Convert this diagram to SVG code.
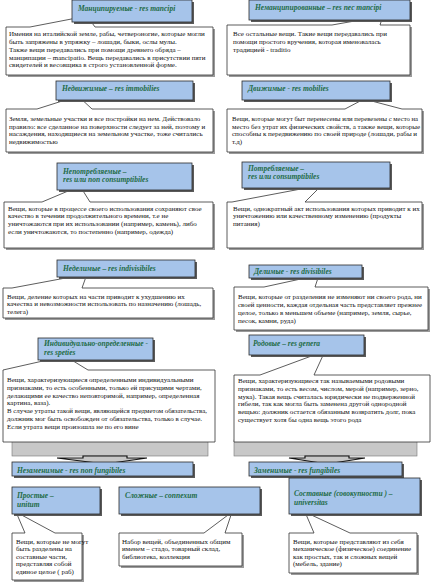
<svg xmlns="http://www.w3.org/2000/svg" width="434" height="585" viewBox="0 0 434 585">
<style>
.hs{fill:#5a5a5a}
.h{fill:#a6c4ea;stroke:#2b2b2b;stroke-width:0.8}
.ht{font-family:"Liberation Serif","DejaVu Serif",serif;font-weight:bold;font-style:italic;font-size:7.5px;fill:#1e6b46}
.bs{fill:#9a9a9a}
.b{fill:#fff;stroke:#333;stroke-width:0.8}
.bt{font-family:"Liberation Serif","DejaVu Serif",serif;font-size:7px;fill:#111}
.tray{fill:#c8c8c8;stroke:#777;stroke-width:0.6}
.arr{fill:#c8c8c8;stroke:#111;stroke-width:1.2}
</style>
<rect width="434" height="585" fill="#fff"/>

<g id="box-mancipi">
<rect class="bs" x="8" y="29" width="207" height="48"/>
<path class="b" d="M6,27 H30 L87,16 L95,27 H213 V75 H6 Z"/>
<text class="bt" x="9" y="35.8">Имения на италийской земле,  рабы,  четвероногие, которые могли</text>
<text class="bt" x="9" y="43.7">быть запряжены в упряжку – лошади, быки, ослы мулы.</text>
<text class="bt" x="9" y="51.6">Также вещи передавались при помощи древнего обряда –</text>
<text class="bt" x="9" y="59.5">манципации – mancipatio. Вещь передавались в присутствии пяти</text>
<text class="bt" x="9" y="67.4">свидетелей и весовщика в строго установленной форме.</text>
</g>
<g id="box-nec-mancipi">
<rect class="bs" x="229" y="27" width="183" height="50"/>
<path class="b" d="M227,25 H332 L383,16 L380,25 H410 V75 H227 Z"/>
<text class="bt" x="233" y="35.5">Все остальные вещи. Такие  вещи передавались при</text>
<text class="bt" x="233" y="43.5">помощи простого вручения, которая именовалась</text>
<text class="bt" x="233" y="51.5">традицией - traditio</text>
</g>
<g id="box-immobilies">
<rect class="bs" x="8" y="111" width="207" height="43"/>
<path class="b" d="M6,109 H37 L78,96 L92,109 H213 V152 H6 Z"/>
<text class="bt" x="9" y="121">Земля, земельные участки и все постройки на нем. Действовало</text>
<text class="bt" x="9" y="128.7">правило: все  сделанное  на поверхности следует за ней, поэтому и</text>
<text class="bt" x="9" y="136.4">насаждения, находящиеся на земельном участке, тоже считались</text>
<text class="bt" x="9" y="144.1">недвижимостью</text>
</g>
<g id="box-mobilies">
<rect class="bs" x="229" y="111" width="195" height="43"/>
<path class="b" d="M227,109 H345 L364,99 L402,109 H422 V152 H227 Z"/>
<text class="bt" x="232" y="121" textLength="186" lengthAdjust="spacingAndGlyphs">Вещи, которые могут быт перенесены или перевезены с  место на</text>
<text class="bt" x="232" y="128.7">место без утрат их физических свойств, а также  вещи, которые</text>
<text class="bt" x="232" y="136.4">способны к передвижению по своей  природе (лошади, рабы и</text>
<text class="bt" x="232" y="144.1">т.д)</text>
</g>
<g id="box-non-consumptibiles">
<rect class="bs" x="6" y="204" width="209" height="46"/>
<path class="b" d="M4,202 H42 L80,186 L90,202 H213 V248 H4 Z"/>
<text class="bt" x="8" y="210.5">Вещи, которые в процессе своего использования сохраняют  свое</text>
<text class="bt" x="8" y="218.2">качество в течении продолжительного времени, т.е не</text>
<text class="bt" x="8" y="225.9">уничтожаются при их использовании (например, камень), либо</text>
<text class="bt" x="8" y="233.6">если уничтожаются, то постепенно (например, одежда)</text>
</g>
<g id="box-consumptibiles">
<rect class="bs" x="229" y="204" width="195" height="46"/>
<path class="b" d="M227,202 H232 L322,185 L305,202 H422 V248 H227 Z"/>
<text class="bt" x="233" y="210.5">Вещи, однократный акт использования которых приводит к их</text>
<text class="bt" x="233" y="218.2">уничтожению или качественному изменению (продукты</text>
<text class="bt" x="233" y="225.9">питания)</text>
</g>
<g id="box-indivisibiles">
<rect class="bs" x="5" y="290" width="210" height="30"/>
<path class="b" d="M3,288 H12 L87,274 L82,288 H213 V318 H3 Z"/>
<text class="bt" x="7" y="298.5">Вещи, деление  которых на части приводит к ухудшению их</text>
<text class="bt" x="7" y="306.2">качества и невозможности использовать по назначению (лошадь,</text>
<text class="bt" x="7" y="313.9">телега)</text>
</g>
<g id="box-divisibiles">
<rect class="bs" x="236" y="289" width="194" height="43"/>
<path class="b" d="M234,287 H264 L319,275 L315,287 H428 V330 H234 Z"/>
<text class="bt" x="238" y="299">Вещи,  которые от разделения не  изменяют ни своего рода, ни</text>
<text class="bt" x="238" y="307" textLength="184" lengthAdjust="spacingAndGlyphs">своей ценности, каждая отдельная часть представляет прежнее</text>
<text class="bt" x="238" y="315">целое, только в меньшем объеме (например, земля, сырье,</text>
<text class="bt" x="238" y="323">песок, камни, руда)</text>
</g>
<g id="box-speties">
<rect class="tray" x="12" y="440" width="196" height="16"/>
<path class="b" d="M3,370 H3 L65,356 L88,370 H215 V442 H3 Z"/>
<text class="bt" x="7" y="382">Вещи, характеризующиеся определенными индивидуальными</text>
<text class="bt" x="7" y="389.8">признаками, то есть особенными, только ей присущими чертами,</text>
<text class="bt" x="7" y="397.6">делающими ее качество неповторимой, например, определенная</text>
<text class="bt" x="7" y="405.4">картина, ваза).</text>
<text class="bt" x="7" y="413.2" textLength="200" lengthAdjust="spacingAndGlyphs">В случае утраты  такой  вещи, являющейся предметом обязательства,</text>
<text class="bt" x="7" y="421">должник мог быть освобожден от обязательства, только в случае.</text>
<text class="bt" x="7" y="428.8">Если  утрата вещи произошла не по его вине</text>
</g>
<g id="box-genera">
<rect class="tray" x="234" y="440" width="183" height="16"/>
<path class="b" d="M234,375 H260 L325,351 L314,375 H430 V442 H234 Z"/>
<text class="bt" x="238" y="383">Вещи, характеризующиеся так называемыми родовыми</text>
<text class="bt" x="238" y="390.8">признаками, то есть весом, числом, мерой (например, зерно,</text>
<text class="bt" x="238" y="398.6">мука). Такая вещь считалась юридически  не подверженной</text>
<text class="bt" x="238" y="406.4">гибели, так как  могла быть заменена другой  однородной</text>
<text class="bt" x="238" y="414.2">вещью: должник остается обязанным возвратить долг, пока</text>
<text class="bt" x="238" y="422">существует хотя бы одна вещь этого рода</text>
</g>
<g id="box-unitum">
<rect class="bs" x="14" y="535" width="70" height="47"/>
<path class="b" d="M12,533 H25 L16,512 L55,533 H82 V580 H12 Z"/>
<text class="bt" x="16" y="543.5">Вещи, которые не могут</text>
<text class="bt" x="16" y="551">быть разделены на</text>
<text class="bt" x="16" y="558.5">составные части,</text>
<text class="bt" x="16" y="566">представляя собой</text>
<text class="bt" x="16" y="573.5">единое  целое ( раб)</text>
</g>
<g id="box-connexum">
<rect class="bs" x="121" y="535" width="123" height="33"/>
<path class="b" d="M119,533 H204 L232,512 L225,533 H242 V566 H119 Z"/>
<text class="bt" x="122" y="543.5">Набор вещей, объединенных общим</text>
<text class="bt" x="122" y="551">именем – стадо, товарный склад,</text>
<text class="bt" x="122" y="558.5">библиотека, коллекция</text>
</g>
<g id="box-universitas">
<rect class="bs" x="291" y="535" width="128" height="40"/>
<path class="b" d="M289,533 H314 L305,512 L350,533 H417 V573 H289 Z"/>
<text class="bt" x="293" y="543.5">Вещи, которые представляют из себя</text>
<text class="bt" x="293" y="551">механическое (физическое) соединение</text>
<text class="bt" x="293" y="558.5">как простых, так и сложных вещей</text>
<text class="bt" x="293" y="566">(мебель, здание)</text>
</g>

<g id="connectors">
<path class="arr" d="M57,458 H83 V456 H127 V458 H147 L105,464 Z"/>
<path class="arr" d="M289,458 H305 V456 H349 V458 H365 L327,464 Z"/>
</g>

<g id="h-mancipi"><rect class="hs" x="74" y="2" width="120" height="22"/><rect class="h" x="72" y="0" width="120" height="22"/><text class="ht" x="78" y="10.5">Манципируемые - res  mancipi</text></g>
<g id="h-nec-mancipi"><rect class="hs" x="251" y="2" width="161" height="20"/><rect class="h" x="249" y="0" width="161" height="20"/><text class="ht" x="255" y="10">Неманципированные – res nec mancipi</text></g>
<g id="h-immobilies"><rect class="hs" x="58" y="83" width="137" height="19"/><rect class="h" x="56" y="81" width="137" height="19"/><text class="ht" x="62" y="90.5">Недвижимые – res immobilies</text></g>
<g id="h-mobilies"><rect class="hs" x="244" y="83" width="148" height="19"/><rect class="h" x="242" y="81" width="148" height="19"/><text class="ht" x="248" y="90.5">Движимые - res mobilies</text></g>
<g id="h-non-consumptibiles"><rect class="hs" x="59" y="165" width="135" height="27"/><rect class="h" x="57" y="163" width="135" height="27"/><text class="ht" x="63" y="173.5">Непотребляемые –</text><text class="ht" x="63" y="181.5">res или non consumptibiles</text></g>
<g id="h-consumptibiles"><rect class="hs" x="244" y="164" width="148" height="26"/><rect class="h" x="242" y="162" width="148" height="26"/><text class="ht" x="248" y="170.5">Потребляемые –</text><text class="ht" x="248" y="178.5">res или consumptibiles</text></g>
<g id="h-indivisibiles"><rect class="hs" x="59" y="262" width="138" height="17"/><rect class="h" x="57" y="260" width="138" height="17"/><text class="ht" x="63" y="270.5">Неделимые – res  indivisibiles</text></g>
<g id="h-divisibiles"><rect class="hs" x="251" y="267" width="113" height="13"/><rect class="h" x="249" y="265" width="113" height="13"/><text class="ht" x="254" y="274">Делимые  -  res divisibiles</text></g>
<g id="h-speties"><rect class="hs" x="40" y="340" width="115" height="22"/><rect class="h" x="38" y="338" width="115" height="22"/><text class="ht" x="44" y="345.5">Индивидуально-определенные -</text><text class="ht" x="44" y="354.5">res speties</text></g>
<g id="h-genera"><rect class="hs" x="251" y="337" width="115" height="20"/><rect class="h" x="249" y="335" width="115" height="20"/><text class="ht" x="253" y="345.5">Родовые – res genera</text></g>
<g id="h-non-fungibiles"><rect class="hs" x="14" y="464" width="181" height="14"/><rect class="h" x="12" y="462" width="181" height="14"/><text class="ht" x="17" y="472.5">Незаменимые - res  non fungibiles</text></g>
<g id="h-fungibiles"><rect class="hs" x="251" y="464" width="153" height="14"/><rect class="h" x="249" y="462" width="153" height="14"/><text class="ht" x="254" y="472.5">Заменимые - res fungibiles</text></g>
<g id="h-unitum"><rect class="hs" x="14" y="489" width="88" height="27"/><rect class="h" x="12" y="487" width="88" height="27"/><text class="ht" x="17" y="497.5">Простые –</text><text class="ht" x="17" y="506.5">unitum</text></g>
<g id="h-connexum"><rect class="hs" x="121" y="489" width="141" height="27"/><rect class="h" x="119" y="487" width="141" height="27"/><text class="ht" x="125" y="497.5">Сложные – connexum</text></g>
<g id="h-universitas"><rect class="hs" x="291" y="480" width="131" height="36"/><rect class="h" x="289" y="478" width="131" height="36"/><text class="ht" x="294" y="495.5">Составные (совокупности ) –</text><text class="ht" x="294" y="504.5">universitas</text></g>
</svg>
